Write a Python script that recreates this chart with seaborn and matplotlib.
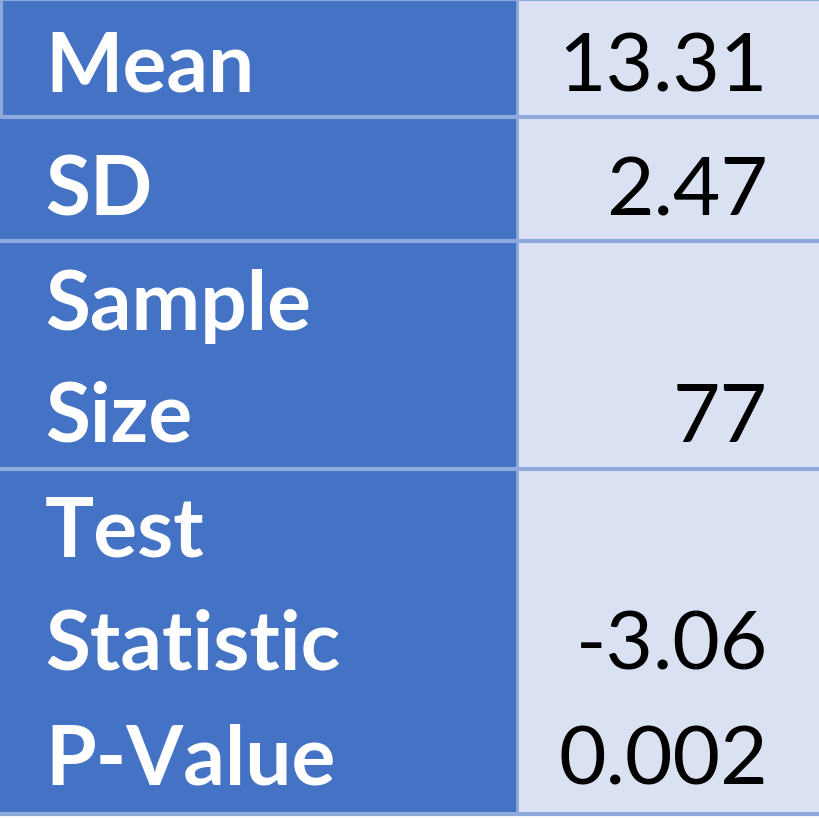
import matplotlib
matplotlib.use("Agg")
import matplotlib.pyplot as plt
from matplotlib.patches import Rectangle
import seaborn as sns

sns.set_theme(style="white")
plt.rcParams['font.family'] = ['Lato', 'DejaVu Sans']

label_lines = [["Mean"], ["SD"], ["Sample", "Size"], ["Test", "Statistic", "P-Value"]]
value_lines = [["13.31"], ["2.47"], ["", "77"], ["", "-3.06", "0.002"]]

row_edges = [0, 118, 242, 470, 815]
line_baselines = [[92], [215], [330, 442], [557, 670, 785]]

fig = plt.figure(figsize=(8.19, 8.20), dpi=100)
ax = fig.add_axes([0, 0, 1, 1])
ax.set_xlim(0, 819)
ax.set_ylim(820, 0)
ax.axis("off")

dark = "#4472C4"
light = "#D9E1F2"
edge = "#8EA9DB"

ax.add_patch(Rectangle((0, 0), 517, 820, color=dark, lw=0))
ax.add_patch(Rectangle((517, 0), 302, 820, color=light, lw=0))
ax.add_patch(Rectangle((0, 815), 819, 5, color="white", lw=0))
for y in row_edges:
    ax.plot([0, 819], [y, y], color=edge, lw=3, solid_capstyle="butt")
ax.plot([517, 517], [0, 815], color=edge, lw=2)
ax.plot([1, 1], [0, 118], color=edge, lw=3)

for labs, vals, bases in zip(label_lines, value_lines, line_baselines):
    for lab, val, b in zip(labs, vals, bases):
        ax.text(45, b, lab, color="white", fontsize=59, fontweight="bold",
                ha="left", va="baseline")
        if val:
            ax.text(768, b, val, color="black", fontsize=59,
                    ha="right", va="baseline")

fig.savefig("out.png", dpi=100)
